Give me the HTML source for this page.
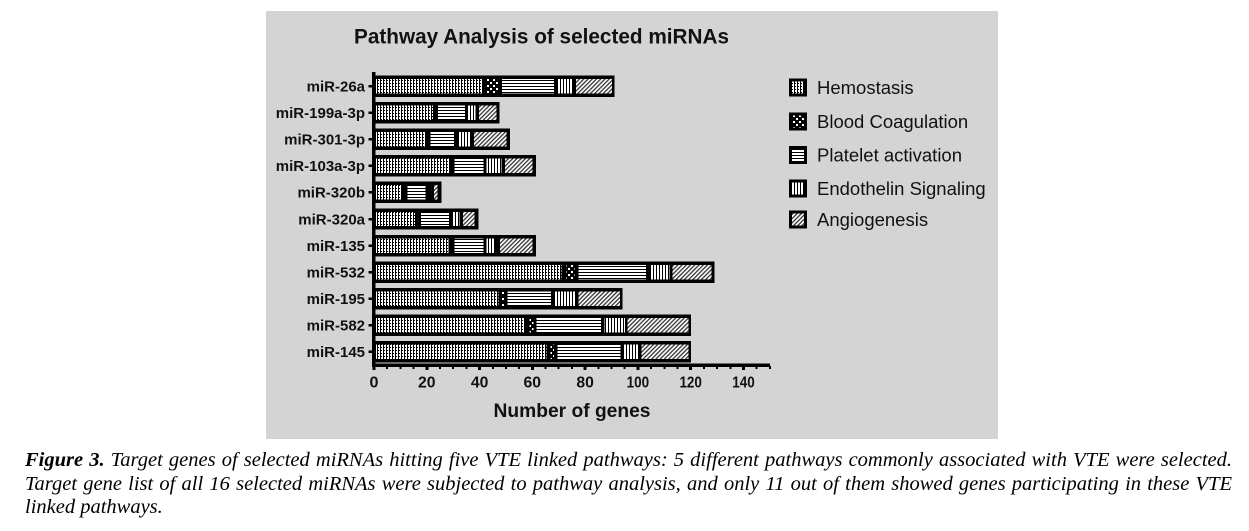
<!DOCTYPE html>
<html><head><meta charset="utf-8">
<style>
html,body{margin:0;padding:0;background:#fff;}
body{width:1249px;height:531px;position:relative;overflow:hidden;}
svg{position:absolute;left:0;top:0;}
.cap{position:absolute;left:25px;width:1207px;font-family:"Liberation Serif",serif;font-style:italic;font-size:20.5px;line-height:24px;height:24px;white-space:nowrap;color:#000;}
.j{text-align:justify;text-align-last:justify;white-space:normal;}
</style></head><body>
<svg width="1249" height="531" viewBox="0 0 1249 531" xmlns="http://www.w3.org/2000/svg">
<defs>
<pattern id="ph" width="3" height="3" patternUnits="userSpaceOnUse">
<rect width="3" height="3" fill="#fff"/><rect x="2" y="0" width="1" height="3" fill="#000"/><rect x="0" y="2" width="1" height="1" fill="#000"/>
</pattern>
<pattern id="pc" width="6" height="6" patternUnits="userSpaceOnUse">
<rect width="6" height="6" fill="#000"/><rect x="1" y="1" width="2" height="2" fill="#fff"/><rect x="4" y="4" width="2" height="2" fill="#fff"/>
</pattern>
<pattern id="pp" width="3" height="3" patternUnits="userSpaceOnUse">
<rect width="3" height="3" fill="#000"/><rect x="0" y="0" width="3" height="2" fill="#fff"/>
</pattern>
<pattern id="pe" width="3" height="3" patternUnits="userSpaceOnUse">
<rect width="3" height="3" fill="#000"/><rect x="0" y="0" width="2" height="3" fill="#fff"/>
</pattern>
<pattern id="pa" width="3" height="3" patternUnits="userSpaceOnUse" patternTransform="rotate(45)">
<rect width="3" height="3" fill="#fff"/><rect x="0" y="0" width="1.3" height="3" fill="#333"/>
</pattern>
</defs>
<rect x="266" y="11" width="732" height="428" fill="#d4d4d4"/>
<text x="354" y="43.5" font-family="Liberation Sans, sans-serif" font-weight="bold" font-size="21" textLength="375" lengthAdjust="spacingAndGlyphs" fill="#111">Pathway Analysis of selected miRNAs</text>

<g id="bars" shape-rendering="crispEdges"></g>

<g shape-rendering="crispEdges" fill="#000">
<rect x="372" y="72" width="3.5" height="295"/>
<rect x="372" y="363.5" width="398" height="3.5"/>
</g>
<g id="ticks" shape-rendering="crispEdges" fill="#000"></g>
<g id="labels" font-family="Liberation Sans, sans-serif" font-weight="bold" fill="#111"></g>

<text x="572" y="417" text-anchor="middle" font-family="Liberation Sans, sans-serif" font-weight="bold" font-size="19.5" textLength="157" lengthAdjust="spacingAndGlyphs" fill="#111">Number of genes</text>

<g id="legend" font-family="Liberation Sans, sans-serif" font-size="18.5" fill="#111"></g>
</svg>

<div class="cap j" style="top:448px;"><b>Figure 3.</b> Target genes of selected miRNAs hitting five VTE linked pathways: 5 different pathways commonly associated with VTE were selected.</div>
<div class="cap j" style="top:472px;">Target gene list of all 16 selected miRNAs were subjected to pathway analysis, and only 11 out of them showed genes participating in these VTE</div>
<div class="cap" style="top:495px;">linked pathways.</div>

<script>
(function(){
var NS="http://www.w3.org/2000/svg";
function el(tag,attrs,parent,txt){var e=document.createElementNS(NS,tag);for(var k in attrs)e.setAttribute(k,attrs[k]);if(txt!==undefined)e.textContent=txt;parent.appendChild(e);return e;}
var names=["miR-26a","miR-199a-3p","miR-301-3p","miR-103a-3p","miR-320b","miR-320a","miR-135","miR-532","miR-195","miR-582","miR-145"];
var data=[
 {end:614.5,s:[["ph",376,483],["pc",487,499],["pp",502,554],["pe",557,572],["pa",576,612]]},
 {end:499.5,s:[["ph",376,433],["pp",438,465],["pe",467.5,475.5],["pa",479,496.5]]},
 {end:510,s:[["ph",376,425.7],["pp",430.7,454],["pe",458.3,470.7],["pa",474,506.7]]},
 {end:536,s:[["ph",376,449],["pp",454.7,483.3],["pe",486.7,501.7],["pa",505,532.7]]},
 {end:441.7,s:[["ph",376,401.7],["pp",407.7,425.7],["pa",434,437.7]]},
 {end:478.3,s:[["ph",376,415],["pp",421,449],["pe",452.3,459.7],["pa",463,474.3]]},
 {end:536,s:[["ph",376,448.3],["pp",454.3,483.3],["pe",486.7,495],["pa",500,532.7]]},
 {end:714.7,s:[["ph",376,561.7],["pc",566.7,574.3],["pp",578.3,646],["pe",650,669.3],["pa",672.7,711.7]]},
 {end:622.7,s:[["ph",376,498.3],["pc",501,504],["pp",507.7,551],["pe",555,575],["pa",578.3,620]]},
 {end:691,s:[["ph",376,525],["pc",529.3,533.3],["pp",536.7,601],["pe",604.3,625],["pa",627.7,688.3]]},
 {end:691,s:[["ph",376,546.7],["pc",550.7,554],["pp",557.3,620.7],["pe",623.3,638.3],["pa",641.7,688.3]]}
];
var bars=document.getElementById("bars"),ticks=document.getElementById("ticks"),labels=document.getElementById("labels");
for(var i=0;i<names.length;i++){
 var yc=86.2+i*26.56;
 var d=data[i];
 el("rect",{x:374,y:(yc-10.7).toFixed(1),width:(d.end-374).toFixed(1),height:21.4,fill:"#000"},bars);
 d.s.forEach(function(s){
  el("rect",{x:s[1],y:(yc-7.2).toFixed(1),width:(s[2]-s[1]).toFixed(1),height:14.4,fill:"url(#"+s[0]+")"},bars);
 });
 el("rect",{x:368.5,y:(yc-1.2).toFixed(1),width:4,height:2.5},ticks);
 el("text",{x:365,y:(yc+5.3).toFixed(1),"text-anchor":"end","font-size":15},labels,names[i]);
}
var px=2.639;
for(var v=0;v<=150;v+=5){
 var x=374+v*px;
 var major=(v%20===0);
 el("rect",{x:(x-(major?1.5:1)).toFixed(1),y:366,width:major?3:2,height:major?4:3},ticks);
 if(major){
  el("text",{x:x.toFixed(1),y:387.3,"text-anchor":"middle","font-size":16,textLength:(v===0?9:(v<100?17.5:22.5)),lengthAdjust:"spacingAndGlyphs"},labels,String(v));
 }
}
var leg=document.getElementById("legend");
var items=[["ph","Hemostasis",87.5],["pc","Blood Coagulation",121.5],["pp","Platelet activation",155],["pe","Endothelin Signaling",188.3],["pa","Angiogenesis",219.3]];
items.forEach(function(it){
 var yc=it[2];
 el("rect",{x:789,y:(yc-9).toFixed(1),width:18,height:18,fill:"#000","shape-rendering":"crispEdges"},leg);
 el("rect",{x:792,y:(yc-6).toFixed(1),width:12,height:12,fill:"url(#"+it[0]+")","shape-rendering":"crispEdges"},leg);
 el("text",{x:817,y:(yc+6.5).toFixed(1)},leg,it[1]);
});
})();
</script>
</body></html>
